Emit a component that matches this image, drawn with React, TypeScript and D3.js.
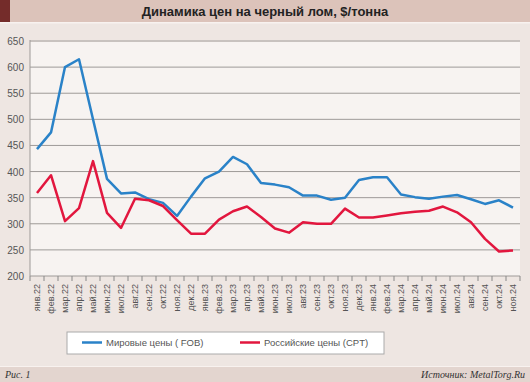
import React from "react";
import * as d3 from "d3";

const months = ["янв","фев","мар","апр","май","июн","июл","авг","сен","окт","ноя","дек"];
const categories: string[] = [];
for (let y = 22; y <= 24; y++) for (let m = 0; m < 12; m++) { if (y === 24 && m > 10) break; categories.push(`${months[m]}.${y}`); }

const fob = [443, 475, 600, 615, 500, 386, 358, 360, 347, 340, 315, 352, 387, 400, 428, 414, 378, 375, 370, 354, 354, 346, 350,
  384, 389, 389, 356, 351, 348, 352, 355, 347, 338, 345, 331];
const cpt = [359, 393, 305, 330, 420, 321, 292, 348, 345, 334, 307, 281, 281, 308, 324, 333, 313, 291, 283, 303, 300, 300, 329,
  312, 312, 316, 320, 323, 325, 333, 322, 303, 271, 247, 249];
const yTicks = [200, 250, 300, 350, 400, 450, 500, 550, 600, 650];

const W = 530, H = 382;
const L = 30, R = 520, T = 41, B = 276;

export default function App() {
  const x = d3.scaleBand<string>().domain(categories).range([L, R]);
  const y = d3.scaleLinear().domain([200, 650]).range([B, T]);
  const line = (vals: number[]) =>
    d3.line<number>().x((_, i) => x(categories[i])! + x.bandwidth() / 2).y((d) => y(d))(vals)!;
  const font = "Arial, 'Liberation Sans', sans-serif";
  return (
    <svg width={W} height={H} style={{ position: "absolute", left: 0, top: 0 }} fontFamily={font}>
      <rect x={0} y={0} width={W} height={H} fill="#eee6e2" />
      <rect x={0} y={0} width={W} height={22} fill="#dcc3ba" />
      <rect x={0} y={0} width={10} height={22} fill="#742c2a" />
      <rect x={0} y={22} width={W} height={1.5} fill="#f8f2ef" />
      <text x={265} y={16} textAnchor="middle" fontSize={13} fontWeight="bold" fill="#222">
        Динамика цен на черный лом, $/тонна
      </text>
      <rect x={L} y={T - 1} width={R - L} height={B - T + 1} fill="#f7f3f1" />
      {yTicks.map((t) => (
        <g key={t}>
          <line x1={L} x2={R} y1={y(t)} y2={y(t)} stroke={t === 650 ? "#c8c2bf" : "#9e9a98"} strokeWidth={t === 650 ? 2 : 1} />
          <text x={24} y={y(t) + 4} textAnchor="end" fontSize={10} fill="#555">{t}</text>
        </g>
      ))}
      <line x1={L} x2={L} y1={T - 1} y2={B} stroke="#9e9a98" />
      {categories.map((c, i) => (
        <line key={"t" + i} x1={x(c)!} x2={x(c)!} y1={B} y2={B + 5} stroke="#888" />
      ))}
      <line x1={R} x2={R} y1={B} y2={B + 5} stroke="#888" />
      {categories.map((c) => {
        const cx = x(c)! + x.bandwidth() / 2;
        return (
          <text key={c} transform={`translate(${cx + 3},${284}) rotate(-90)`} textAnchor="end" fontSize={9} fill="#555">
            {c}
          </text>
        );
      })}
      <path d={line(fob)} fill="none" stroke="#2a82c8" strokeWidth={2.5} strokeLinejoin="round" />
      <path d={line(cpt)} fill="none" stroke="#e2163e" strokeWidth={2.5} strokeLinejoin="round" />
      <rect x={67} y={332} width={317} height={22} fill="#fff" stroke="#aaa" />
      <line x1={82} x2={102} y1={342.5} y2={342.5} stroke="#2a82c8" strokeWidth={2.5} />
      <text x={106} y={346} fontSize={9.5} fill="#555">Мировые цены ( FOB)</text>
      <line x1={240} x2={260} y1={342.5} y2={342.5} stroke="#e2163e" strokeWidth={2.5} />
      <text x={264} y={346} fontSize={9.5} fill="#555">Российские цены (CPT)</text>
      <rect x={0} y={366} width={W} height={1} fill="#f8f2ef" />
      <rect x={0} y={367} width={W} height={15} fill="#e3d5cf" />
      <text x={5} y={378} fontSize={10} fontStyle="italic" fontFamily="'Liberation Serif', 'DejaVu Serif', serif" fill="#333">Рис. 1</text>
      <text x={525} y={378} textAnchor="end" fontSize={10} fontStyle="italic" fontFamily="'Liberation Serif', 'DejaVu Serif', serif" fill="#333">
        Источник: MetalTorg.Ru
      </text>
    </svg>
  );
}
